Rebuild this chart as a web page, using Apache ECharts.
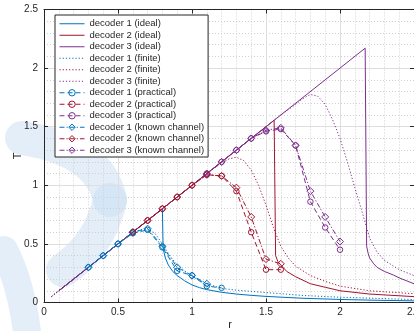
<!DOCTYPE html>
<html>
<head>
<meta charset="utf-8">
<script src="https://cdn.jsdelivr.net/npm/echarts@6/dist/echarts.min.js"></script>
<style>
  html, body { margin: 0; padding: 0; background: #fff; }
  #chart { width: 414px; height: 331px; }
</style>
</head>
<body>
<div id="chart"></div>
<script>
// Axis ticks
const rTicks = [0, 0.5, 1, 1.5, 2, 2.5];
const tTicks = [0, 0.5, 1, 1.5, 2, 2.5];

// Ideal decoders: T follows r up to the threshold, then collapses
const rIdeal1 = [0.1, 0.8, 0.805, 0.82, 0.84, 0.87, 0.9, 0.95, 1.0, 1.05, 1.1, 1.2, 1.3, 1.4, 1.5, 1.75, 2.0, 2.25, 2.5];
const tIdeal1 = [0.1, 0.8, 0.46, 0.38, 0.32, 0.265, 0.23, 0.185, 0.15, 0.127, 0.11, 0.087, 0.072, 0.061, 0.052, 0.036, 0.026, 0.019, 0.014];
const rIdeal2 = [0.1, 1.555, 1.565, 1.58, 1.6, 1.64, 1.7, 1.8, 1.9, 2.0, 2.2, 2.5];
const tIdeal2 = [0.1, 1.555, 0.40, 0.35, 0.32, 0.265, 0.22, 0.16, 0.13, 0.10, 0.072, 0.05];
const rIdeal3 = [0.1, 2.17, 2.18, 2.19, 2.2, 2.225, 2.25, 2.3, 2.36, 2.4, 2.5];
const tIdeal3 = [0.1, 2.17, 0.48, 0.42, 0.38, 0.335, 0.30, 0.265, 0.235, 0.21, 0.16];

// Finite-length decoders
const rFinite1 = [0.05, 0.55, 0.6, 0.65, 0.7, 0.75, 0.8, 0.85, 0.9, 1.0, 1.1, 1.2, 1.3, 1.5, 1.75, 2.0, 2.25, 2.5];
const tFinite1 = [0.05, 0.55, 0.59, 0.62, 0.63, 0.59, 0.5, 0.4, 0.32, 0.22, 0.16, 0.12, 0.105, 0.085, 0.06, 0.045, 0.035, 0.025];
const rFinite2 = [0.05, 1.1, 1.15, 1.2, 1.25, 1.3, 1.35, 1.4, 1.45, 1.5, 1.55, 1.6, 1.65, 1.7, 1.8, 1.9, 2.0, 2.2, 2.5];
const tFinite2 = [0.05, 1.1, 1.145, 1.19, 1.225, 1.24, 1.21, 1.13, 1.0, 0.83, 0.64, 0.48, 0.38, 0.31, 0.23, 0.18, 0.14, 0.1, 0.075];
const rFinite3 = [0.05, 1.6, 1.65, 1.7, 1.75, 1.8, 1.85, 1.9, 1.95, 2.0, 2.05, 2.1, 2.15, 2.2, 2.25, 2.3, 2.4, 2.5];
const tFinite3 = [0.05, 1.6, 1.645, 1.69, 1.74, 1.775, 1.76, 1.69, 1.56, 1.40, 1.2, 0.98, 0.77, 0.55, 0.43, 0.36, 0.28, 0.23];

// Practical decoders (measured points)
const rPrac1 = [0.3, 0.4, 0.5, 0.6, 0.7, 0.8, 0.9, 1.0, 1.1, 1.2];
const tPrac1 = [0.30, 0.40, 0.50, 0.59, 0.62, 0.47, 0.27, 0.23, 0.14, 0.125];
const rPrac2 = [0.6, 0.7, 0.8, 0.9, 1.0, 1.1, 1.2, 1.3, 1.4, 1.5, 1.6];
const tPrac2 = [0.60, 0.70, 0.80, 0.90, 1.00, 1.09, 1.08, 0.95, 0.60, 0.28, 0.28];
const rPrac3 = [1.1, 1.2, 1.3, 1.4, 1.5, 1.6, 1.7, 1.8, 1.9, 2.0];
const tPrac3 = [1.10, 1.20, 1.30, 1.40, 1.46, 1.48, 1.34, 0.86, 0.64, 0.45];

// Practical decoders with known channel
const rKnown1 = [0.3, 0.4, 0.5, 0.6, 0.7, 0.8, 0.9, 1.0, 1.1];
const tKnown1 = [0.30, 0.40, 0.50, 0.60, 0.63, 0.48, 0.30, 0.23, 0.16];
const rKnown2 = [0.6, 0.7, 0.8, 0.9, 1.0, 1.1, 1.2, 1.3, 1.4, 1.5, 1.6];
const tKnown2 = [0.60, 0.70, 0.80, 0.90, 1.00, 1.09, 1.08, 0.98, 0.73, 0.37, 0.33];
const rKnown3 = [1.1, 1.2, 1.3, 1.4, 1.5, 1.6, 1.7, 1.8, 1.9, 2.0];
const tKnown3 = [1.10, 1.20, 1.30, 1.40, 1.47, 1.49, 1.34, 0.95, 0.73, 0.52];

const colors = ['#0072BD', '#A2142F', '#7E2F8E'];
const FONT = '"Liberation Sans", Arial, sans-serif';
const DOTTED = [1.2, 2];
const DASHED = [5, 3];
const DASHDOT = [5, 2, 1.2, 2];
const HOLLOW = 'rgba(255,255,255,0)';

const zip = (rs, ts) => rs.map((r, i) => [r, ts[i]]);

function curve(name, rs, ts, color, dash, z) {
  return {
    name, type: 'line', data: zip(rs, ts), symbol: 'none', z,
    lineStyle: { color, width: 1, type: dash },
    itemStyle: { color },
    emphasis: { disabled: true }, silent: true
  };
}
function marked(name, rs, ts, color, dash, symbol, size) {
  return {
    name, type: 'line', data: zip(rs, ts), symbol, symbolSize: size, showSymbol: true, z: 5,
    lineStyle: { color, width: 1, type: dash },
    itemStyle: { color: HOLLOW, borderColor: color, borderWidth: 1 },
    emphasis: { disabled: true }, silent: true
  };
}

const series = [
  curve('decoder 1 (ideal)', rIdeal1, tIdeal1, colors[0], 'solid', 3),
  curve('decoder 2 (ideal)', rIdeal2, tIdeal2, colors[1], 'solid', 3),
  curve('decoder 3 (ideal)', rIdeal3, tIdeal3, colors[2], 'solid', 3),
  curve('decoder 1 (finite)', rFinite1, tFinite1, colors[0], DOTTED, 2),
  curve('decoder 2 (finite)', rFinite2, tFinite2, colors[1], DOTTED, 2),
  curve('decoder 3 (finite)', rFinite3, tFinite3, colors[2], DOTTED, 2),
  marked('decoder 1 (practical)', rPrac1, tPrac1, colors[0], DASHED, 'circle', 5.5),
  marked('decoder 2 (practical)', rPrac2, tPrac2, colors[1], DASHED, 'circle', 5.5),
  marked('decoder 3 (practical)', rPrac3, tPrac3, colors[2], DASHED, 'circle', 5.5),
  marked('decoder 1 (known channel)', rKnown1, tKnown1, colors[0], DASHDOT, 'diamond', 7),
  marked('decoder 2 (known channel)', rKnown2, tKnown2, colors[1], DASHDOT, 'diamond', 7),
  marked('decoder 3 (known channel)', rKnown3, tKnown3, colors[2], DASHDOT, 'diamond', 7)
];

// Legend entries: plain curves show only their line sample, marked ones a hollow marker
const legendData = series.map(s => s.symbol === 'none'
  ? { name: s.name, itemStyle: { opacity: 0 }, lineStyle: { width: 1 } }
  : { name: s.name, lineStyle: { width: 1 },
      itemStyle: { color: HOLLOW, borderColor: s.lineStyle.color, borderWidth: 1 } });

const axisCommon = {
  type: 'value', min: 0, max: 2.5, interval: 0.5,
  axisLine: { show: true, onZero: false, lineStyle: { color: '#262626', width: 1 } },
  axisTick: { show: true, inside: true, length: 4, lineStyle: { color: '#262626' } },
  minorTick: { show: false, splitNumber: 5 }
};

// Pale background emblem behind the plot
const emblemStyle = { stroke: 'rgba(200,222,244,0.5)', lineWidth: 34, fill: null, lineCap: 'round' };
const titleStyle = { fontSize: 11, fill: '#262626', fontFamily: FONT, align: 'center', verticalAlign: 'middle' };

const chart = echarts.init(document.getElementById('chart'), null, { renderer: 'canvas' });
chart.setOption({
  animation: false,
  backgroundColor: '#fff',
  textStyle: { fontFamily: FONT },
  graphic: [
    { type: 'bezierCurve', z: -10, silent: true,
      shape: { x1: 22, y1: 138, cpx1: 100, cpy1: 150, x2: 110, y2: 200 }, style: emblemStyle },
    { type: 'bezierCurve', z: -10, silent: true,
      shape: { x1: 110, y1: 200, cpx1: 100, cpy1: 245, x2: 63, y2: 270 }, style: emblemStyle },
    { type: 'bezierCurve', z: -10, silent: true,
      shape: { x1: 4, y1: 250, cpx1: 22, cpy1: 285, x2: 28, y2: 340 },
      style: Object.assign({}, emblemStyle, { lineWidth: 28 }) },
    // Axis titles
    { type: 'text', silent: true, x: 18, y: 156, rotation: Math.PI / 2,
      style: Object.assign({ text: 'T' }, titleStyle) },
    { type: 'text', silent: true, x: 230, y: 325,
      style: Object.assign({ text: 'r' }, titleStyle) }
  ],
  grid: { left: 44, top: 9.5, width: 370, height: 293, containLabel: false, outerBoundsMode: 'none' },
  legend: {
    orient: 'vertical', left: 55, top: 15,
    data: legendData,
    itemWidth: 25, itemHeight: 8, itemGap: 0,
    padding: [3, 4, 1, 4],
    backgroundColor: '#fff', borderColor: '#262626', borderWidth: 1,
    textStyle: { fontSize: 9.5, color: '#262626', lineHeight: 11.5, fontFamily: FONT },
    selectedMode: false
  },
  xAxis: [
    Object.assign({}, axisCommon, {
      position: 'bottom',
      axisLabel: { fontSize: 10, color: '#262626', margin: 5,
        formatter: v => { const i = rTicks.indexOf(v); return i < 0 ? '' : String(rTicks[i]); } },
      splitLine: { show: true, lineStyle: { color: '#dedede', width: 1 } },
      minorSplitLine: { show: true, lineStyle: { color: '#cfcfcf', width: 1, type: [1, 2] } }
    }),
    Object.assign({}, axisCommon, {
      position: 'top', axisLabel: { show: false }, splitLine: { show: false }
    })
  ],
  yAxis: [
    Object.assign({}, axisCommon, {
      position: 'left',
      axisLabel: { fontSize: 10, color: '#262626', margin: 6,
        formatter: v => { const i = tTicks.indexOf(v); return i < 0 ? '' : String(tTicks[i]); } },
      splitLine: { show: true, lineStyle: { color: '#dedede', width: 1 } },
      minorSplitLine: { show: true, lineStyle: { color: '#cfcfcf', width: 1, type: [1, 2] } }
    }),
    Object.assign({}, axisCommon, {
      position: 'right', axisLabel: { show: false }, splitLine: { show: false }
    })
  ],
  series: series
});
</script>
</body>
</html>
